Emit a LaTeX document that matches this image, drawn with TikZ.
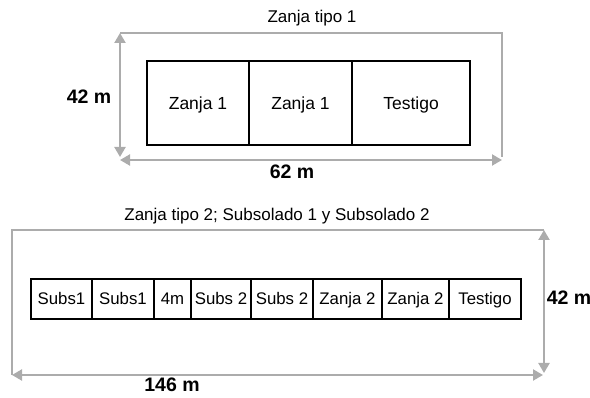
\documentclass[tikz,border=0pt]{standalone}
\usepackage{fontspec}
\setmainfont{Liberation Sans}
\usetikzlibrary{arrows.meta}
\definecolor{framegray}{RGB}{172,172,172}
\begin{document}
\begin{tikzpicture}[x=1pt,y=-1pt,
  frameline/.style={draw=framegray, line width=2.2pt},
  dimarrow/.style={frameline, {Triangle[length=10pt,width=11pt]}-{Triangle[length=10pt,width=11pt]}},
  cellbig/.style={draw=black, line width=1.6pt, inner sep=0pt, minimum height=84pt,
    font=\fontsize{17.5}{19}\selectfont, text height=12.5pt, text depth=0pt},
  cellsmall/.style={draw=black, line width=1.6pt, inner sep=0pt, minimum height=40pt,
    font=\fontsize{16.8}{18}\selectfont, text height=12pt, text depth=0pt},
  lbl/.style={inner sep=0pt, anchor=base, font=\fontsize{17}{19}\selectfont},
  dimlbl/.style={inner sep=0pt, anchor=base, font=\fontsize{19.5}{21}\bfseries\selectfont}]
\useasboundingbox (0,0) rectangle (590,398);

% ---- top diagram ----
\coordinate (ta) at (120,33);
\coordinate (tb) at (502,33);
\coordinate (tc) at (502,157);
\coordinate (td) at (120,157);
\coordinate (te) at (120,160);
\coordinate (tf) at (502,160);
\draw[frameline] (ta) -- (tb) -- (tc);
\draw[dimarrow] (ta) -- (td);
\draw[dimarrow] (te) -- (tf);

\node[cellbig, minimum width=102pt] (z1a) at (198,103) {Zanja 1};
\node[cellbig, minimum width=103pt] (z1b) at (300.5,103) {Zanja 1};
\node[cellbig, minimum width=118pt] (t1) at (411,103) {Testigo};

\node[lbl] (title1) at (312,23) {Zanja tipo 1};
\node[dimlbl] (h1) at (89,104) {42 m};
\node[dimlbl] (w1) at (292,179) {62 m};

% ---- bottom diagram ----
\coordinate (ba) at (12,230);
\coordinate (bb) at (544,230);
\coordinate (bc) at (544,373);
\coordinate (bd) at (12,375);
\coordinate (be) at (543,375);
\draw[frameline] (bb) -- (ba) -- (bd);
\draw[dimarrow] (bb) -- (bc);
\draw[dimarrow] (bd) -- (be);

\node[cellsmall, minimum width=61pt] (s1a) at (61.5,299) {Subs1};
\node[cellsmall, minimum width=62pt] (s1b) at (123,299) {Subs1};
\node[cellsmall, minimum width=37pt] (m4) at (172.5,299) {4m};
\node[cellsmall, minimum width=60pt] (s2a) at (221,299) {Subs 2};
\node[cellsmall, minimum width=62pt] (s2b) at (282,299) {Subs 2};
\node[cellsmall, minimum width=69pt] (z2a) at (347.5,299) {Zanja 2};
\node[cellsmall, minimum width=67pt] (z2b) at (415.5,299) {Zanja 2};
\node[cellsmall, minimum width=72pt] (t2) at (485,299) {Testigo};

\node[lbl] (title2) at (277,221) {Zanja tipo 2; Subsolado 1 y Subsolado 2};
\node[dimlbl] (h2) at (569,305) {42 m};
\node[dimlbl] (w2) at (172,392) {146 m};
\end{tikzpicture}
\end{document}
